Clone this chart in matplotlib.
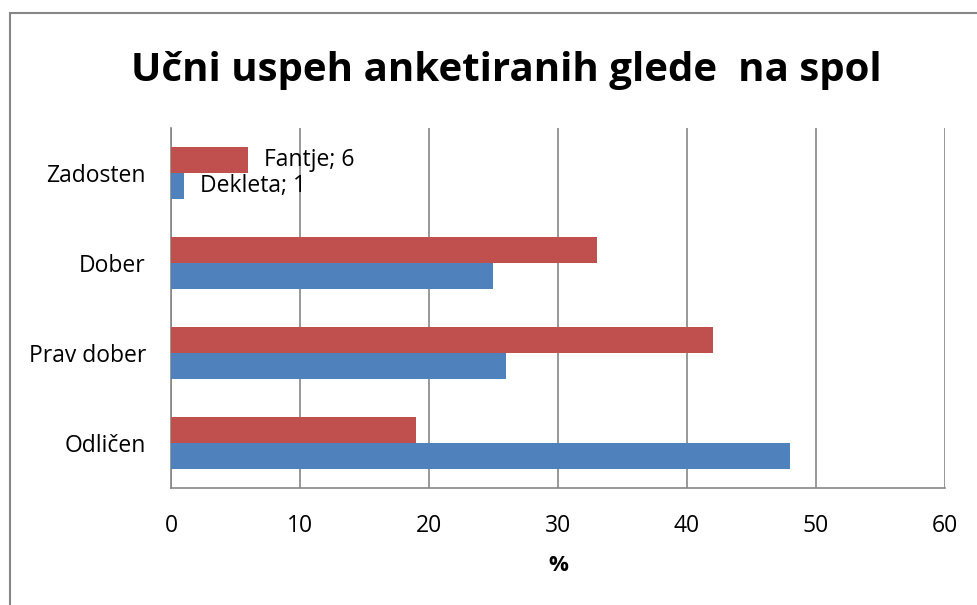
import matplotlib
matplotlib.use("Agg")
import matplotlib.pyplot as plt
from matplotlib.patches import Rectangle
import numpy as np

categories = ["Zadosten", "Dober", "Prav dober", "Odličen"]
fantje = [6, 33, 42, 19]
dekleta = [1, 25, 26, 48]
xticks = [0, 10, 20, 30, 40, 50, 60]
title = "Učni uspeh anketiranih glede  na spol"

plt.rcParams['font.family'] = ['Open Sans', 'DejaVu Sans']

W, H = 978, 605
fig = plt.figure(figsize=(W / 100, H / 100), dpi=100)
ax = fig.add_axes([171 / W, 1 - 488 / H, (945 - 171) / W, (488 - 128) / H])

y = np.arange(len(categories))
bh = 0.29
red = "#C0504D"
blue = "#4F81BD"
ax.barh(y - bh / 2, fantje, height=bh, color=red, zorder=3)
ax.barh(y + bh / 2, dekleta, height=bh, color=blue, zorder=3)

fs = 16.5
ax.set_ylim(len(categories) - 0.5, -0.5)
ax.set_xlim(0, 60)
ax.set_xticks(xticks)
ax.set_xticklabels([str(t) for t in xticks], fontsize=fs)
ax.set_yticks(y)
ax.set_yticklabels(categories, fontsize=fs)
ax.tick_params(axis='both', length=0)
ax.tick_params(axis='y', pad=18)
ax.tick_params(axis='x', pad=19)
ax.grid(axis='x', color="#868686", linewidth=1.2, zorder=0)
for s in ["top", "right"]:
    ax.spines[s].set_visible(False)
ax.spines["left"].set_color("#868686")
ax.spines["bottom"].set_color("#868686")
ax.spines["left"].set_linewidth(1.2)
ax.spines["bottom"].set_linewidth(1.2)

ax.set_xlabel("%", fontsize=fs - 0.5, fontweight='bold', labelpad=12)

# data labels for the first category
ax.annotate(f"Fantje; {fantje[0]}", (fantje[0], y[0] - bh / 2), xytext=(16, 0),
            textcoords='offset pixels', va='center', ha='left', fontsize=fs, zorder=4)
ax.annotate(f"Dekleta; {dekleta[0]}", (dekleta[0], y[0] + bh / 2), xytext=(16, 0),
            textcoords='offset pixels', va='center', ha='left', fontsize=fs, zorder=4)

fig.text(506 / W, 1 - 70 / H, title, ha='center', va='center', fontsize=29, fontweight='bold')

fig.patches.append(Rectangle((10 / W, -0.1), 1.2, 1 - 13 / H + 0.1, transform=fig.transFigure,
                             fill=False, edgecolor="#868686", linewidth=1.5))

fig.savefig("out.png", dpi=100)
